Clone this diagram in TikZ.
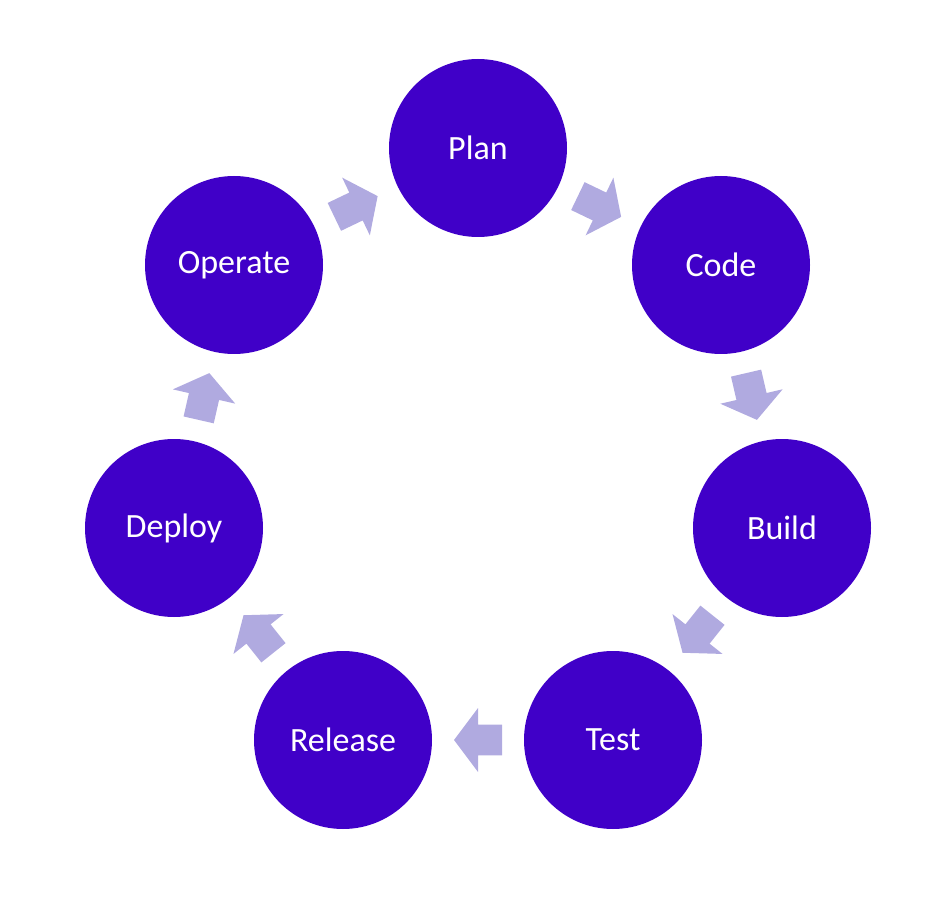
\documentclass[tikz,border=0pt]{standalone}
\usepackage{fontspec}
\setmainfont{Carlito}
\usetikzlibrary{calc}
\definecolor{stagefill}{RGB}{64,0,200}
\definecolor{arrowfill}{RGB}{176,170,224}
\tikzset{
  stage/.style={circle, fill=stagefill, draw=none, minimum size=133.5pt, inner sep=0pt,
    text=white, font=\fontsize{25.5}{30}\selectfont},
  flowarrow/.style={fill=arrowfill, draw=none}
}
\begin{document}
\begin{tikzpicture}[x=0.75pt, y=-0.75pt]
\useasboundingbox (0,0) rectangle (950,916);
\node[stage] (plan)    at (478,148) {Plan};
\node[stage] (code)    at (721,265) {Code};
\node[stage] (build)   at (782,528) {Build};
\node[stage] (test)    at (613,740) {Test};
\node[stage] (release) at (343,740) {Release};
\node[stage] (deploy)  at (174,528) {Deploy};
\node[stage] (operate) at (234,265) {Operate};
\foreach \a/\b in {plan/code, code/build, build/test, test/release, release/deploy, deploy/operate, operate/plan} {
  \pgfmathanglebetweenpoints{\pgfpointanchor{\a}{center}}{\pgfpointanchor{\b}{center}}
  \let\myang\pgfmathresult
  \begin{scope}[shift={($(\a)!0.5!(\b)$)}, rotate=\myang]
    \fill[flowarrow] (-18pt,-11.6pt) -- (0pt,-11.6pt) -- (0pt,-24pt) -- (18pt,0pt)
      -- (0pt,24pt) -- (0pt,11.6pt) -- (-18pt,11.6pt) -- cycle;
  \end{scope}
}
\end{tikzpicture}
\end{document}
